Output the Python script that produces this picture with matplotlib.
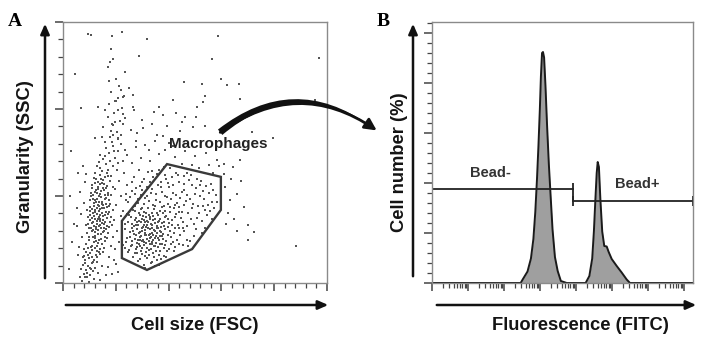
import numpy as np
import matplotlib
matplotlib.use("Agg")
import matplotlib.pyplot as plt
from matplotlib.patches import Polygon, FancyArrowPatch
from matplotlib.ticker import MultipleLocator, LogLocator, NullFormatter

W, H = 705, 342

# ---- panel A: FSC / SSC events (linear arbitrary units, x 0-100, y 0-90) ----
left_events = [
    (7.2, 0.8), (8.5, 1.9), (9.8, 0.5), (7.9, 3.1), (10.4, 2.6), (8.8, 4.4), (11.2, 4.0), (9.3, 5.8),
    (7.5, 6.2), (10.9, 6.9), (12.1, 5.3), (8.2, 7.8), (9.9, 8.5), (11.6, 8.1), (13.0, 7.4), (10.3, 10.2),
    (12.4, 9.6), (8.9, 10.8), (14.1, 9.9), (6.6, 2.2), (11.8, 1.5), (13.3, 3.6), (9.1, 2.0), (10.6, 4.9),
    (12.7, 11.0), (7.0, 4.8), (14.6, 6.0), (11.0, 11.5), (8.0, 9.3), (15.2, 10.6),
    (10.5, 12.3), (12.8, 12.9), (14.9, 13.4), (11.7, 14.1), (13.6, 15.0), (16.0, 14.6), (9.8, 15.7),
    (12.2, 16.3), (14.3, 16.9), (17.1, 17.2), (10.9, 17.8), (13.1, 18.4), (15.4, 18.0), (11.9, 19.6),
    (14.0, 20.1), (16.5, 19.8), (9.6, 20.5), (12.7, 21.3), (15.1, 21.8), (17.8, 21.0), (10.8, 22.4),
    (13.5, 22.9), (11.4, 24.0), (14.6, 24.3), (16.9, 23.7), (12.3, 25.2), (15.7, 25.8), (10.2, 26.1),
    (13.8, 26.7), (17.5, 26.4), (11.6, 27.5), (14.9, 28.0), (12.9, 29.1), (16.3, 29.4), (10.7, 29.9),
    (14.1, 30.6), (18.2, 30.2), (12.0, 31.4), (15.5, 31.9), (13.4, 33.0), (16.8, 33.5), (11.1, 33.8),
    (14.7, 34.6), (17.9, 35.1), (12.6, 35.7), (15.9, 36.4), (13.9, 37.2), (11.8, 23.1), (16.2, 27.1),
    (13.2, 13.8), (15.8, 16.0), (9.9, 18.9), (14.4, 19.1), (12.5, 27.9), (17.3, 28.6), (10.1, 24.8),
    (15.3, 23.0), (13.0, 31.0), (18.8, 25.2), (11.3, 21.0), (14.8, 26.0), (16.6, 22.5), (12.0, 17.5),
    (10.4, 28.7), (15.0, 32.8), (13.7, 24.7), (17.0, 31.2), (11.5, 30.5), (14.2, 22.0), (16.4, 18.7),
    (12.9, 20.3), (9.4, 22.9), (18.5, 20.0), (13.3, 35.0), (15.6, 34.0), (11.0, 32.6), (14.5, 29.5),
    (17.6, 24.5), (12.3, 15.4), (16.8, 26.2),
    (14.8, 38.5), (17.2, 39.1), (13.0, 40.2), (16.1, 41.0), (18.9, 40.5), (15.3, 42.6), (19.8, 43.1),
    (14.0, 44.0), (17.5, 44.8), (21.0, 45.5), (16.4, 46.7), (19.1, 47.2), (22.6, 42.0), (12.2, 38.0),
    (20.4, 38.8), (18.0, 36.8), (23.5, 46.0), (15.8, 48.5),
    (17.8, 50.3), (20.3, 52.1), (18.6, 54.8), (21.5, 56.0), (19.4, 58.7), (22.2, 60.5), (20.0, 62.8),
    (23.1, 64.4), (18.3, 66.0), (21.8, 51.0), (16.9, 57.2),
]

left_dense_events = [
    (9.2, 3.5), (10.1, 5.2), (8.4, 6.8), (11.5, 7.1), (12.9, 8.8), (9.6, 9.6), (11.1, 12.8), (13.9, 11.8),
    (8.7, 13.5), (10.0, 14.9), (12.5, 14.6), (14.5, 15.3), (11.3, 16.0), (13.3, 16.8), (15.1, 17.6),
    (9.1, 17.3), (10.6, 19.0), (12.4, 18.7), (13.8, 19.7), (15.7, 20.4), (17.4, 19.4), (11.0, 20.6),
    (12.0, 22.0), (14.0, 21.4), (16.0, 21.0), (10.3, 23.5), (12.8, 23.8), (14.2, 23.3), (16.2, 24.6),
    (13.0, 25.9), (11.0, 25.5), (15.0, 26.9), (17.9, 27.4), (12.0, 28.5), (13.6, 28.1), (15.8, 28.9),
    (11.3, 29.1), (13.5, 30.0), (16.9, 30.5), (12.4, 32.2), (14.3, 31.8), (16.1, 32.6), (10.6, 31.0),
    (13.9, 34.0), (15.2, 35.6), (12.1, 34.4), (17.0, 36.9), (14.4, 36.0), (19.0, 33.0), (18.3, 22.6),
    (9.0, 25.3), (8.6, 19.9), (16.7, 15.6), (15.5, 12.1), (13.6, 10.6), (12.2, 12.0), (10.8, 9.1),
    (9.4, 12.0), (7.6, 8.8), (8.1, 11.6), (11.9, 26.4), (14.6, 27.3), (13.1, 27.0), (16.0, 23.3),
    (12.6, 19.4), (11.4, 18.2), (14.9, 20.8), (13.4, 21.9), (15.4, 19.0), (10.2, 21.7), (12.1, 24.6),
    (14.0, 25.4), (15.9, 30.4), (13.2, 32.5), (11.8, 36.2), (16.5, 38.0), (14.2, 39.6), (17.7, 42.0),
    (19.5, 45.5), (20.7, 41.5), (18.4, 48.6), (20.9, 49.8), (16.0, 43.8), (13.5, 41.8), (21.8, 47.9),
    (18.0, 52.5), (19.6, 55.6), (21.0, 59.5),
]

spread_events = [
    (18.5, 3.2), (20.1, 6.5), (17.6, 9.0), (19.8, 11.7), (21.4, 14.2), (18.9, 15.8), (20.6, 18.1),
    (19.2, 21.6), (21.9, 23.0), (20.2, 26.8), (22.0, 29.9), (19.6, 32.4), (21.2, 35.3), (23.0, 37.9),
    (18.1, 12.9), (17.0, 5.6), (16.2, 2.7), (14.0, 1.2), (19.5, 8.1), (21.0, 3.9),
    (6.0, 12.5), (7.1, 16.0), (5.4, 19.8), (6.9, 23.9), (7.8, 27.6), (6.3, 31.5), (8.3, 34.7),
    (7.4, 40.2), (5.2, 25.8), (8.9, 37.5),
    (27.5, 48.8), (32.4, 45.9), (37.7, 50.6), (41.5, 47.2), (44.3, 52.4), (29.8, 56.2), (33.9, 55.0),
    (39.5, 54.3), (25.6, 52.9), (42.8, 58.6),
]

gated_events = [
    (30.5, 6.1), (33.2, 6.8), (28.4, 7.5), (35.6, 7.9), (31.9, 8.6), (26.7, 9.0), (38.1, 9.4), (29.8, 9.9),
    (34.0, 10.2), (24.5, 10.6), (36.9, 10.9), (32.5, 11.3), (27.6, 11.6), (40.2, 11.8), (30.1, 12.0),
    (42.5, 12.4), (25.8, 12.7), (34.8, 12.9), (38.7, 13.1), (23.6, 11.9), (31.0, 5.3), (36.2, 6.3),
    (44.0, 13.6),
    (28.9, 13.3), (31.6, 13.8), (33.9, 14.1), (26.3, 14.5), (36.4, 14.8), (30.3, 15.0), (32.8, 15.4),
    (29.1, 15.9), (35.2, 16.1), (27.7, 16.4), (31.4, 16.7), (38.0, 16.9), (33.6, 17.2), (25.2, 17.5),
    (30.0, 17.8), (36.8, 18.0), (34.5, 18.3), (28.2, 18.6), (32.1, 18.9), (39.6, 19.2), (26.9, 19.5),
    (35.7, 19.7), (30.8, 20.0), (33.3, 20.4), (37.4, 20.6), (29.4, 20.9), (24.8, 21.2), (31.9, 21.5),
    (41.3, 21.7), (35.0, 22.0), (27.5, 22.3), (38.6, 22.6), (33.0, 22.9), (30.2, 23.2), (36.1, 23.5),
    (42.8, 23.8), (28.6, 24.0), (32.4, 14.6), (34.7, 15.6), (29.6, 16.2), (37.3, 17.5), (31.2, 18.2),
    (35.9, 20.9), (28.0, 21.0), (33.8, 19.0), (30.6, 14.2), (32.9, 17.0), (36.6, 16.3), (27.1, 15.2),
    (31.8, 19.9), (34.2, 21.8), (29.9, 22.1), (38.3, 21.1), (40.4, 18.0), (26.0, 20.3), (32.6, 23.6),
    (35.4, 13.7), (30.4, 19.2), (33.5, 16.0), (37.9, 15.1), (28.8, 17.3), (31.1, 21.0), (34.9, 17.8),
    (36.3, 21.4), (39.2, 23.2), (29.2, 12.8), (32.0, 12.2), (43.6, 20.1), (25.5, 16.0), (27.9, 13.9),
    (36.0, 12.5), (38.9, 14.4), (41.0, 15.8), (30.9, 16.5), (33.1, 18.6), (34.3, 12.8), (35.5, 18.9),
    (37.0, 19.4), (31.5, 22.7), (28.5, 19.9), (40.0, 20.7), (32.3, 20.9), (29.0, 14.7), (34.1, 23.1),
    (37.6, 13.6), (42.1, 17.2), (26.5, 18.0), (30.7, 24.4), (36.7, 24.9), (44.8, 22.4), (24.0, 14.0),
    (33.7, 13.3), (38.5, 18.6),
    (26.4, 25.1), (30.1, 26.0), (34.6, 25.5), (38.2, 26.4), (42.0, 25.9), (45.7, 26.8), (49.3, 27.3),
    (53.0, 26.6), (56.4, 28.1), (28.3, 27.7), (32.7, 28.3), (36.9, 27.9), (40.8, 28.8), (44.5, 29.4),
    (48.1, 29.0), (51.8, 30.1), (55.2, 31.0), (25.3, 29.5), (29.6, 30.2), (33.4, 30.9), (37.5, 31.4),
    (41.6, 31.0), (46.0, 32.2), (50.2, 32.8), (54.1, 33.5), (27.8, 32.6), (31.7, 33.1), (35.8, 33.9),
    (39.9, 34.4), (43.9, 35.0), (47.6, 35.6), (52.4, 35.3), (30.5, 35.8), (34.2, 36.5), (38.6, 37.3),
    (42.7, 38.1), (46.9, 37.8), (36.4, 39.0), (40.5, 39.8), (24.1, 33.9), (27.0, 36.6), (32.2, 38.4),
    (45.2, 24.5), (48.6, 22.0), (51.5, 24.0), (54.7, 23.3), (57.3, 25.7), (47.0, 19.6), (50.4, 18.7),
    (44.3, 16.6), (46.8, 14.9), (43.0, 27.5), (39.3, 29.8), (35.1, 28.6), (31.0, 29.2), (27.3, 26.5),
    (25.0, 23.5), (40.1, 33.0), (44.9, 31.4), (49.0, 33.9), (37.2, 35.0), (33.0, 34.8), (29.0, 33.6),
    (53.3, 29.0), (56.0, 34.2), (58.1, 30.5), (41.3, 36.6), (45.8, 36.8), (48.8, 25.9), (52.6, 21.5),
    (24.6, 27.8), (22.9, 25.0), (23.4, 18.5), (22.8, 13.0), (23.9, 30.8), (45.5, 21.2), (49.8, 16.3),
    (47.3, 12.9), (53.8, 19.0), (56.6, 21.9), (38.8, 24.7), (34.0, 26.9), (30.8, 27.4), (42.6, 22.9),
    (40.7, 26.1), (44.1, 19.0), (39.5, 11.0), (37.0, 8.2), (41.8, 14.2),
]

gated_dense_events = [
    (27.2, 10.4), (29.4, 11.1), (31.3, 10.7), (33.5, 11.8), (35.1, 11.2), (28.0, 12.3), (30.6, 13.0),
    (33.0, 13.5), (36.8, 13.4), (26.2, 13.2), (28.5, 14.9), (30.0, 14.4), (31.9, 15.3), (34.1, 15.0),
    (35.8, 15.5), (37.5, 16.1), (27.0, 17.0), (29.2, 17.6), (30.9, 17.4), (32.5, 16.4), (34.0, 16.7),
    (35.6, 17.1), (26.0, 19.0), (27.8, 19.9), (29.8, 18.9), (31.6, 19.4), (33.7, 20.0), (36.1, 19.1),
    (38.3, 19.8), (27.1, 21.6), (28.9, 21.4), (30.5, 21.8), (32.8, 21.9), (34.7, 20.6), (36.8, 22.1),
    (39.8, 21.9), (25.9, 22.7), (29.1, 23.6), (31.3, 24.2), (33.6, 24.3), (35.6, 24.1), (37.8, 24.2),
    (40.5, 24.6), (27.4, 24.9), (29.7, 25.4), (32.2, 25.9), (35.0, 26.6), (37.6, 26.2), (39.9, 27.3),
    (42.3, 26.9), (28.5, 28.9), (31.9, 30.0), (35.3, 30.6), (38.7, 30.0), (42.9, 30.4), (46.9, 30.3),
    (50.0, 30.8), (27.1, 30.8), (33.6, 32.3), (37.1, 33.0), (41.8, 33.7), (45.9, 34.2), (50.6, 35.9),
    (30.1, 32.1), (26.0, 35.0), (43.6, 37.1), (39.0, 36.0), (35.6, 37.5), (48.5, 37.3), (52.0, 33.7),
    (55.1, 27.0), (51.2, 26.4), (47.2, 24.1), (50.8, 22.4), (53.9, 25.1), (49.5, 20.3), (46.0, 17.9),
    (43.2, 15.0), (45.6, 18.8), (43.9, 24.4), (41.2, 20.0), (42.4, 19.0), (39.9, 16.7), (38.4, 12.0),
    (40.9, 13.4), (36.4, 9.8), (34.6, 8.9), (32.7, 9.5), (30.9, 9.2), (29.0, 8.3), (33.9, 7.2),
    (35.0, 5.9), (28.1, 10.5), (25.0, 11.4), (24.3, 15.6), (23.3, 20.3), (24.2, 23.9), (23.7, 28.5),
    (26.3, 31.6), (29.8, 35.0), (33.9, 38.6), (38.1, 40.0), (46.7, 28.2), (44.0, 26.1), (53.1, 31.6),
    (57.0, 31.9), (58.2, 27.9), (55.7, 24.8), (52.8, 17.4), (48.1, 14.6), (45.3, 13.1), (42.0, 11.0),
    (39.2, 8.9),
]

outer_events = [
    (61.5, 33.0), (63.2, 28.5), (65.8, 30.7), (62.4, 24.1), (64.9, 22.0), (60.9, 37.5), (67.6, 35.1),
    (66.0, 17.9), (70.2, 20.0), (72.5, 17.5), (61.8, 20.5), (63.8, 36.0), (59.2, 40.2), (68.4, 26.1),
    (88.1, 12.8), (70.1, 14.8),
    (26.0, 41.5), (29.4, 43.2), (33.1, 42.0), (36.5, 44.6), (27.7, 46.8), (31.2, 47.5), (35.0, 49.0),
    (38.8, 46.0), (42.3, 43.5), (45.0, 41.0), (48.7, 40.6), (51.6, 39.5), (55.4, 40.8), (58.3, 42.5),
    (61.0, 41.2), (64.5, 40.0), (67.2, 42.3), (50.1, 43.8), (54.0, 44.9), (46.2, 45.6), (24.2, 44.1),
    (28.6, 38.9), (40.0, 48.3), (57.0, 37.8),
    (4.5, 72.0), (6.8, 60.2), (3.0, 45.5), (5.5, 38.0), (2.5, 30.1), (4.0, 20.5), (3.5, 14.0),
    (5.8, 9.5), (2.2, 5.0),
]

upper_events = [
    (9.6, 85.9), (10.5, 85.4), (18.4, 85.2), (22.2, 86.4), (31.9, 84.0), (18.1, 80.8), (28.9, 78.4),
    (19.1, 77.4), (17.8, 76.1), (16.9, 74.6), (23.5, 72.9), (17.5, 69.7), (20.0, 70.2), (45.9, 69.2),
    (21.2, 68.1), (25.0, 67.3), (22.0, 66.6), (26.5, 64.9), (22.8, 64.0), (20.9, 63.8), (19.6, 62.9),
    (41.8, 63.1), (17.5, 61.6), (13.4, 60.6), (16.0, 59.7), (26.4, 60.6), (26.9, 59.7), (36.2, 60.8),
    (34.6, 59.1), (22.8, 58.2), (38.0, 57.9), (46.2, 57.3), (23.5, 56.8), (15.0, 53.9), (18.8, 54.5),
    (22.6, 54.8), (28.1, 51.8), (30.2, 53.3), (35.5, 51.0), (12.1, 49.9), (14.7, 50.4), (19.1, 51.0),
    (20.9, 49.9), (45.0, 55.6),
    (58.8, 85.2), (56.6, 77.1), (97.1, 77.5), (59.7, 70.2), (62.0, 68.2), (66.7, 68.5), (52.7, 68.6),
    (53.8, 64.5), (67.0, 63.4), (52.9, 62.5), (50.9, 60.6), (95.5, 63.1), (50.4, 57.3), (49.4, 53.9),
    (53.8, 54.1), (71.5, 52.2), (79.7, 49.9),
]

gate_fsc = [39.4, 59.8, 59.8, 48.9, 31.8, 22.3, 22.3]
gate_ssc = [41.0, 36.6, 25.2, 11.7, 4.5, 8.6, 21.4]

# ---- panel B: FITC histogram ----
fitc = [1, 290, 330, 450, 560, 655, 740, 825, 905, 990, 1060, 1138, 1211, 1300, 1420, 1570, 1760,
        1980, 2230, 2600, 3100, 3800, 5521,
        18500, 23500, 28200, 31400, 34600, 37584, 40087, 43300, 47500, 53500, 61000, 71285, 80910,
        98175, 135207, 185780, 255859, 316228, 10 ** 7.25]
cell_pct = [0.0, 0.0, 1.4, 4.6, 9.8, 17.6, 28.4, 41.6, 54.8, 69.4, 82.6, 92.0, 92.4, 90.2, 78.8, 63.2,
            47.6, 34.4, 21.4, 10.4, 4.8, 0.8, 0.0,
            0.0, 2.8, 9.8, 20.6, 33.6, 44.0, 48.4, 46.4, 33.6, 20.6, 14.8, 14.6, 12.4,
            9.6, 6.8, 4.2, 1.4, 0.0, 0.0]

gate_split = 8260
fitc_max = 10 ** 7.25
bead_neg_y = 37.6
bead_pos_y = 32.8


def fxy(px, py):
    return px / W, 1 - py / H


fig = plt.figure(figsize=(W / 100, H / 100), dpi=100)
fig.patch.set_facecolor("white")

sans = "Liberation Sans"
label_font = dict(family=sans, fontweight="bold", fontsize=13.2, color="#141414")
spine_col = "#8a8a8a"


def style_axes(ax):
    for sp in ax.spines.values():
        sp.set_color(spine_col)
        sp.set_linewidth(1.0)
    ax.tick_params(which="both", direction="out", colors="#444444", labelleft=False,
                   labelbottom=False, top=False, right=False)
    ax.tick_params(which="major", length=6, width=1.1)
    ax.tick_params(which="minor", length=3.5, width=0.9)


# panel A
axA = fig.add_axes([63 / W, 1 - 283 / H, 264 / W, 261 / H])
pts = np.array(left_events + left_dense_events + spread_events + gated_events
               + gated_dense_events + outer_events + upper_events)
axA.scatter(pts[:, 0], pts[:, 1], s=2.0, c="#555555", linewidths=0, marker="s")
axA.add_patch(Polygon(np.column_stack([gate_fsc, gate_ssc]), closed=True, fill=False,
                      ec="#3a3a3a", lw=1.7))
axA.set_xlim(0, 100)
axA.set_ylim(0, 90)
axA.xaxis.set_major_locator(MultipleLocator(20))
axA.xaxis.set_minor_locator(MultipleLocator(4))
axA.yaxis.set_major_locator(MultipleLocator(30))
axA.yaxis.set_minor_locator(MultipleLocator(6))
style_axes(axA)

# panel B
axB = fig.add_axes([432 / W, 1 - 283 / H, 261 / W, 261 / H])
axB.set_xscale("log")
axB.fill_between(fitc, cell_pct, color="#9f9f9f", lw=0)
axB.plot(fitc, cell_pct, color="#1a1a1a", lw=1.4)
axB.plot([1, gate_split], [bead_neg_y, bead_neg_y], color="#222222", lw=1.3)
axB.vlines(gate_split, 33.2, 40.0, color="#222222", lw=1.3)
axB.plot([gate_split, fitc_max], [bead_pos_y, bead_pos_y], color="#222222", lw=1.3)
axB.vlines([gate_split, fitc_max], 30.8, 34.8, color="#222222", lw=1.3, clip_on=False)
axB.text(41, 44, "Bead-", ha="center", va="center", family=sans, fontweight="bold",
         fontsize=10.5, color="#333333")
axB.text(4.9e5, 39.6, "Bead+", ha="center", va="center", family=sans, fontweight="bold",
         fontsize=10.5, color="#333333")
axB.set_xlim(1, fitc_max)
axB.set_ylim(0, 104.4)
axB.xaxis.set_major_locator(LogLocator(base=10, numticks=20))
axB.xaxis.set_minor_locator(LogLocator(base=10, subs=np.arange(2, 10), numticks=20))
axB.xaxis.set_minor_formatter(NullFormatter())
axB.yaxis.set_major_locator(MultipleLocator(20))
axB.yaxis.set_minor_locator(MultipleLocator(4))
style_axes(axB)

# big axis arrows
arrow_kw = dict(transform=fig.transFigure, arrowstyle="-|>,head_length=5,head_width=2.2",
                lw=1.8, color="#111111", mutation_scale=1.2)
for (x0, y0), (x1, y1) in [((45, 281), (45, 21)), ((413, 279), (413, 21)),
                           ((63, 305), (331, 305)), ((434, 305), (699, 305))]:
    fig.add_artist(FancyArrowPatch(fxy(x0, y0), fxy(x1, y1), **arrow_kw))

# axis labels
fig.text(*fxy(25, 157), "Granularity (SSC)", rotation=90, ha="center", va="center", **label_font)
fig.text(*fxy(399, 162), "Cell number (%)", rotation=90, ha="center", va="center", **label_font)
fig.text(*fxy(195, 326), "Cell size (FSC)", ha="center", va="center", **label_font)
fig.text(*fxy(580, 326), "Fluorescence (FITC)", ha="center", va="center", **label_font)

# panel letters
fig.text(*fxy(15, 21), "A", ha="center", va="center", family="Liberation Serif",
         fontweight="bold", fontsize=14)
fig.text(*fxy(383, 21), "B", ha="center", va="center", family="Liberation Serif",
         fontweight="bold", fontsize=14)

# gate name and curved arrow to histogram
fig.text(*fxy(218, 144), "Macrophages", ha="center", va="center", family=sans,
         fontweight="bold", fontsize=11, color="#222222")
fig.add_artist(FancyArrowPatch(fxy(218, 134), fxy(372, 127), transform=fig.transFigure,
                               connectionstyle="arc3,rad=-0.38",
                               arrowstyle="wedge,tail_width=5,shrink_factor=0.6",
                               color="#111111", lw=0))
fig.add_artist(FancyArrowPatch(fxy(218, 134), fxy(379, 132), transform=fig.transFigure,
                               connectionstyle="arc3,rad=-0.36",
                               arrowstyle="-|>,head_length=7,head_width=3.5",
                               color="#111111", lw=2.0))

fig.savefig("out.png", dpi=100)
